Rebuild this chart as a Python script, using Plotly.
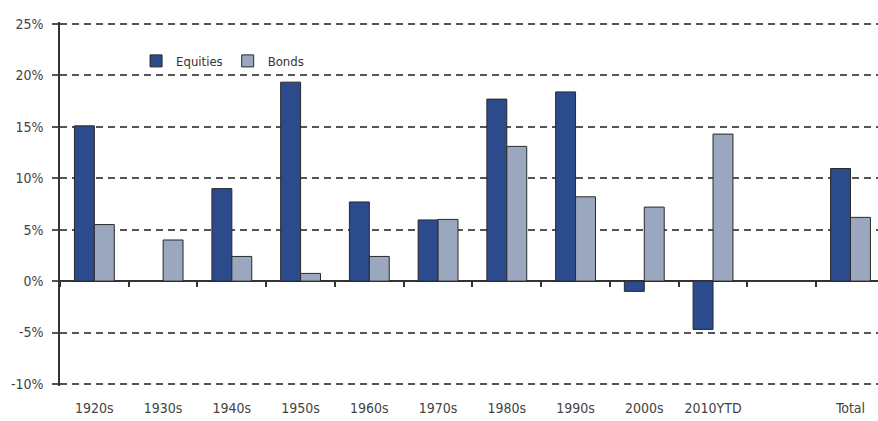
import plotly.graph_objects as go

categories = ["1920s", "1930s", "1940s", "1950s", "1960s", "1970s", "1980s",
              "1990s", "2000s", "2010YTD", " ", "Total"]
equities = [15.1, None, 9.0, 19.35, 7.7, 5.95, 17.7, 18.4, -1.0, -4.7, None, 10.95]
bonds = [5.5, 4.0, 2.4, 0.75, 2.4, 6.0, 13.1, 8.2, 7.2, 14.3, None, 6.2]
y_ticks = [-10, -5, 0, 5, 10, 15, 20, 25]
y_labels = [f"{v}%" for v in y_ticks]

FONT = "DejaVu Sans Condensed, Liberation Sans Narrow, sans-serif"
EQ_COLOR = "#2C4B8C"
BD_COLOR = "#9AA7BE"
EDGE = "#2a2a2a"

fig = go.Figure()
fig.add_trace(go.Bar(name="Equities", x=categories, y=equities,
                     marker=dict(color=EQ_COLOR, line=dict(color=EDGE, width=1))))
fig.add_trace(go.Bar(name="Bonds", x=categories, y=bonds,
                     marker=dict(color=BD_COLOR, line=dict(color=EDGE, width=1))))
# invisible trace to carry the tick marks along the zero line
fig.add_trace(go.Bar(x=categories, y=[None] * len(categories), xaxis="x2",
                     showlegend=False, hoverinfo="skip"))

yr = [-10.2, 25.2]
zero_pos = (0 - yr[0]) / (yr[1] - yr[0])

fig.update_layout(
    width=878, height=421,
    margin=dict(l=60, r=0, t=22, b=35),
    paper_bgcolor="white", plot_bgcolor="white",
    barmode="group", bargap=0.42, bargroupgap=0,
    font=dict(family=FONT, size=14, color="#444"),
    showlegend=True,
    legend=dict(orientation="h", x=0.093, y=0.893, xanchor="left", yanchor="middle",
                bgcolor="rgba(0,0,0,0)", font=dict(size=13, color="#333"),
                itemwidth=30, tracegroupgap=0),
    xaxis=dict(type="category", categoryorder="array", categoryarray=categories,
               range=[-0.5, 11.4], showline=False, showgrid=False, zeroline=False,
               ticks="outside", ticklen=9, tickcolor="rgba(0,0,0,0)",
               tickfont=dict(size=14, color="#444")),
    xaxis2=dict(type="category", categoryorder="array", categoryarray=categories,
                overlaying="x", anchor="free", position=zero_pos, side="bottom",
                range=[-0.5, 11.4], showline=False, showgrid=False, zeroline=False,
                showticklabels=False, ticks="outside", tickson="boundaries",
                ticklen=5, tickcolor="#333", tickwidth=1.5),
    yaxis=dict(range=yr, tickvals=y_ticks, ticktext=y_labels,
               showgrid=True, gridcolor="#555", griddash="7px,5px", gridwidth=1.5,
               zeroline=True, zerolinecolor="#333", zerolinewidth=1.5,
               showline=True, linecolor="#333", linewidth=1.5,
               ticks="outside", ticklen=6, tickcolor="#555", tickwidth=1.5,
               ticklabelstandoff=6,
               tickfont=dict(size=14, color="#444")),
)

fig.write_html("out.html", config={"displayModeBar": False})
